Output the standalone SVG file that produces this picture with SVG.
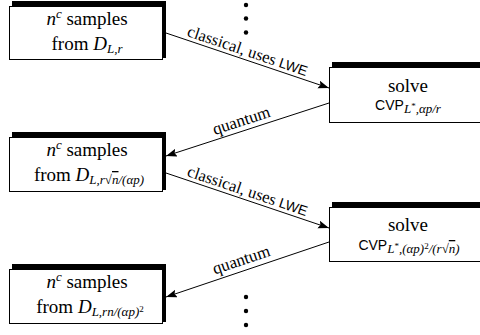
<svg xmlns="http://www.w3.org/2000/svg" width="480" height="335" viewBox="0 0 480 335">
<defs>
<marker id="ah" markerUnits="userSpaceOnUse" markerWidth="12" markerHeight="9" refX="11" refY="4" orient="auto">
<path d="M0,0 L11,4 L0,8 L2,4 z" fill="#000"/>
</marker>
</defs>
<rect width="480" height="335" fill="#fff"/>
<g id="dots" fill="#000">
<circle cx="246" cy="5" r="2.2"/>
<circle cx="246" cy="18.5" r="2.2"/>
<circle cx="246" cy="32.5" r="2.2"/>
<circle cx="246" cy="297" r="2.2"/>
<circle cx="246" cy="311" r="2.2"/>
<circle cx="246" cy="325" r="2.2"/>
</g>
<g id="connectors" stroke="#000" stroke-width="1" fill="none" marker-end="url(#ah)">
<line x1="166" y1="33" x2="329" y2="88"/>
<line x1="329" y1="103" x2="166" y2="156"/>
<line x1="166" y1="173" x2="329" y2="228"/>
<line x1="329" y1="242" x2="166" y2="297"/>
</g>
<g id="edge-labels" fill="#000">
<text font-family="Liberation Serif" font-size="16.5" text-anchor="middle" transform="translate(246,56) rotate(18.65)">classical, uses <tspan font-family="Liberation Sans" font-size="14">LWE</tspan></text>
<text font-family="Liberation Serif" font-size="17" text-anchor="middle" transform="translate(243,125.7) rotate(-18)">quantum</text>
<text font-family="Liberation Serif" font-size="16.5" text-anchor="middle" transform="translate(246,196) rotate(18.65)">classical, uses <tspan font-family="Liberation Sans" font-size="14">LWE</tspan></text>
<text font-family="Liberation Serif" font-size="17" text-anchor="middle" transform="translate(243,265) rotate(-18.6)">quantum</text>
</g>
<g id="n1">
<rect x="12" y="1" width="154" height="57" fill="#000"/>
<rect x="9.5" y="6.5" width="153" height="53" fill="#fff" stroke="#000"/>
<text font-family="Liberation Serif" font-size="19" text-anchor="middle" x="87" y="25"><tspan font-style="italic">n</tspan><tspan font-style="italic" font-size="13" dy="-7">c</tspan><tspan dy="7"> samples</tspan></text>
<text font-family="Liberation Serif" font-size="19" text-anchor="middle" x="87" y="50">from <tspan font-style="italic">D</tspan><tspan font-style="italic" font-size="13" dy="3">L,r</tspan></text>
</g>
<g id="n2">
<rect x="332" y="62" width="160" height="58" fill="#000"/>
<rect x="329.5" y="67.5" width="160" height="55" fill="#fff" stroke="#000"/>
<text font-family="Liberation Serif" font-size="19" text-anchor="middle" x="408" y="92">solve</text>
<text font-family="Liberation Serif" font-size="19" text-anchor="middle" x="408" y="110"><tspan font-family="Liberation Sans" font-size="14">CVP</tspan><tspan font-style="italic" font-size="13" dy="3">L</tspan><tspan font-size="9" dy="-4">*</tspan><tspan font-style="italic" font-size="13" dy="4">,αp/r</tspan></text>
</g>
<g id="n3">
<rect x="12" y="132" width="154" height="58" fill="#000"/>
<rect x="9.5" y="137.5" width="153" height="54" fill="#fff" stroke="#000"/>
<text font-family="Liberation Serif" font-size="19" text-anchor="middle" x="87" y="156"><tspan font-style="italic">n</tspan><tspan font-style="italic" font-size="13" dy="-7">c</tspan><tspan dy="7"> samples</tspan></text>
<text font-family="Liberation Serif" font-size="19" text-anchor="middle" x="89" y="181">from <tspan font-style="italic">D</tspan><tspan font-style="italic" font-size="13" dy="3">L,r√<tspan text-decoration="overline">n</tspan>/(αp)</tspan></text>
</g>
<g id="n4">
<rect x="332" y="202" width="160" height="58" fill="#000"/>
<rect x="329.5" y="207.5" width="160" height="54" fill="#fff" stroke="#000"/>
<text font-family="Liberation Serif" font-size="19" text-anchor="middle" x="408" y="231">solve</text>
<text font-family="Liberation Serif" font-size="19" text-anchor="middle" x="409" y="250"><tspan font-family="Liberation Sans" font-size="14">CVP</tspan><tspan font-style="italic" font-size="13" dy="3">L</tspan><tspan font-size="9" dy="-4">*</tspan><tspan font-style="italic" font-size="13" dy="4">,(αp)</tspan><tspan font-size="9" dy="-4">2</tspan><tspan font-style="italic" font-size="13" dy="4">/(r√<tspan text-decoration="overline">n</tspan>)</tspan></text>
</g>
<g id="n5">
<rect x="12" y="264" width="154" height="58" fill="#000"/>
<rect x="9.5" y="269.5" width="153" height="54" fill="#fff" stroke="#000"/>
<text font-family="Liberation Serif" font-size="19" text-anchor="middle" x="87" y="288"><tspan font-style="italic">n</tspan><tspan font-style="italic" font-size="13" dy="-7">c</tspan><tspan dy="7"> samples</tspan></text>
<text font-family="Liberation Serif" font-size="19" text-anchor="middle" x="90" y="313">from <tspan font-style="italic">D</tspan><tspan font-style="italic" font-size="13" dy="3">L,rn/(αp)</tspan><tspan font-size="9" dy="-4">2</tspan></text>
</g>
</svg>
